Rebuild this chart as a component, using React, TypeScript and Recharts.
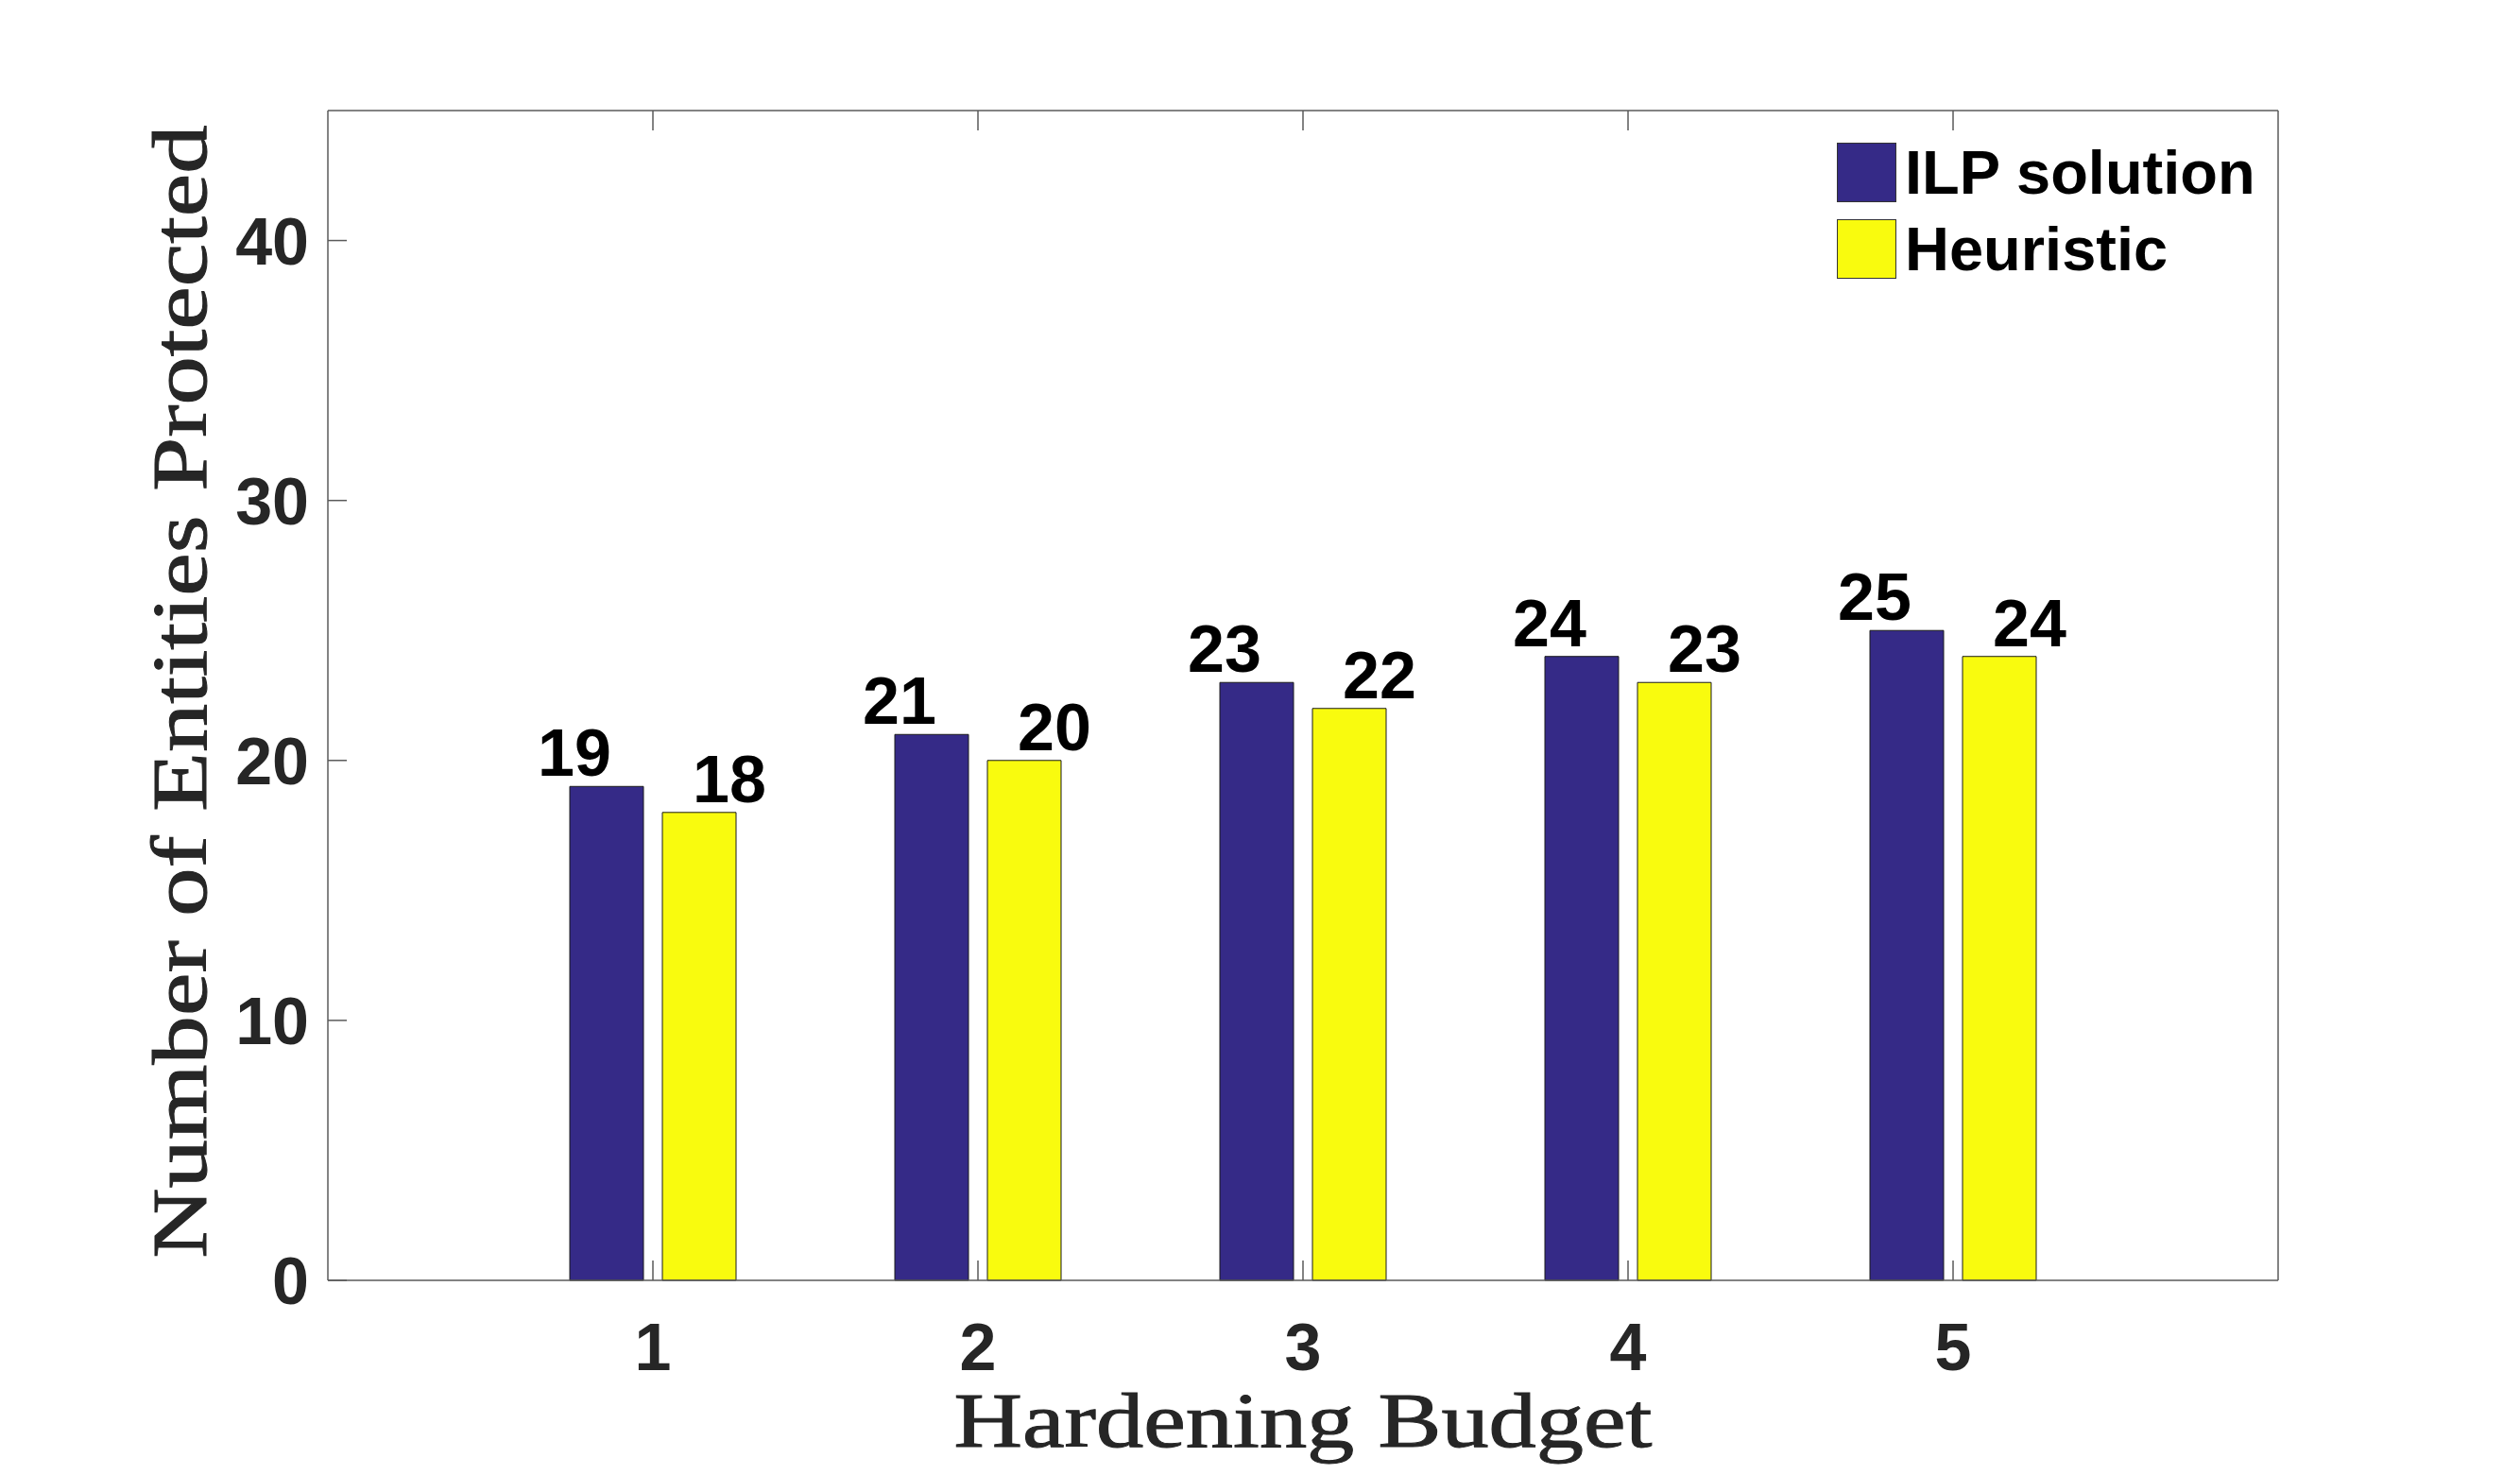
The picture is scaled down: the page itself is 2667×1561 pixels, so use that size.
import React from 'react'
import { BarChart, Bar, XAxis, YAxis, Legend, LabelList } from 'recharts'

const budgets = ['1', '2', '3', '4', '5']
const ilpValues = [19, 21, 23, 24, 25]
const heuristicValues = [18, 20, 22, 23, 24]
const yTicks = [0, 10, 20, 30, 40]
const seriesOrder = ['ILP solution', 'Heuristic']

const data = budgets.map((b, i) => ({ budget: b, ilp: ilpValues[i], heuristic: heuristicValues[i] }))

const AXIS = '#5a5a5a'
const TEXT = '#262626'
const SANS = '"Liberation Sans", Arial, Helvetica, sans-serif'
const SERIF = '"Liberation Serif", "Times New Roman", serif'

const BottomTick = ({ x, y, payload }: any) => (
  <g>
    <line x1={x} y1={y} x2={x} y2={y - 21} stroke={AXIS} strokeWidth={1.5} />
    <text x={x} y={y + 95} textAnchor="middle" fill={TEXT} fontFamily={SANS} fontWeight="bold" fontSize={70}>
      {payload.value}
    </text>
  </g>
)

const TopTick = ({ x, y }: any) => <line x1={x} y1={y} x2={x} y2={y + 21} stroke={AXIS} strokeWidth={1.5} />

const LeftTick = ({ x, y, payload }: any) => (
  <g>
    <line x1={x} y1={y} x2={x + 20} y2={y} stroke={AXIS} strokeWidth={1.5} />
    <text x={x - 20} y={y} dy="0.36em" textAnchor="end" fill={TEXT} fontFamily={SANS} fontWeight="bold" fontSize={70}>
      {payload.value}
    </text>
  </g>
)

const RightTick = ({ x, y }: any) => <line x1={x} y1={y} x2={x - 20} y2={y} stroke={AXIS} strokeWidth={1.5} />

const XLabel = ({ viewBox }: any) => {
  const { x, width } = viewBox
  return (
    <text
      x={x + width / 2}
      y={1531}
      textAnchor="middle"
      fill={TEXT}
      stroke={TEXT}
      strokeWidth={1}
      fontFamily={SERIF}
      fontSize={82}
      textLength={739}
      lengthAdjust="spacingAndGlyphs"
    >
      Hardening Budget
    </text>
  )
}

const YLabel = ({ viewBox }: any) => {
  const { y, height } = viewBox
  const cy = y + height / 2 - 4
  return (
    <text
      x={218}
      y={cy}
      transform={`rotate(-90 218 ${cy})`}
      textAnchor="middle"
      fill={TEXT}
      stroke={TEXT}
      strokeWidth={1}
      fontFamily={SERIF}
      fontSize={82}
      textLength={1199}
      lengthAdjust="spacingAndGlyphs"
    >
      Number of Entities Protected
    </text>
  )
}

const valueLabel = (shift: number) => (props: any) => {
  const { x, y, width, value } = props
  return (
    <text x={x + width / 2 + shift} y={y - 11} textAnchor="middle" fill="#000" fontFamily={SANS} fontWeight="bold" fontSize={70}>
      {value}
    </text>
  )
}

const LegendContent = ({ payload }: any) => {
  const items = [...(payload || [])].sort((a: any, b: any) => seriesOrder.indexOf(a.value) - seriesOrder.indexOf(b.value))
  return (
    <div style={{ fontFamily: SANS, fontWeight: 'bold', fontSize: 65 }}>
      {items.map((entry: any) => (
        <div key={entry.value} style={{ display: 'flex', alignItems: 'center', height: 81 }}>
          <div style={{ width: 61, height: 61, background: entry.color, border: '1px solid #333' }} />
          <span style={{ marginLeft: 9, color: '#000', lineHeight: '63px' }}>{entry.value}</span>
        </div>
      ))}
    </div>
  )
}

export default function App() {
  return (
    <div style={{ position: 'absolute', left: 0, top: 0, background: '#fff' }}>
      <BarChart
        width={2667}
        height={1561}
        data={data}
        margin={{ top: 116, right: 255, bottom: 0, left: 0 }}
        barSize={78}
        barGap={20}
      >
        <XAxis
          dataKey="budget"
          height={206}
          padding={{ left: 172, right: 172 }}
          axisLine={{ stroke: AXIS, strokeWidth: 1.5 }}
          tickLine={false}
          tickSize={0}
          tickMargin={0}
          interval={0}
          tick={<BottomTick />}
          label={<XLabel />}
        />
        <XAxis
          xAxisId="top"
          dataKey="budget"
          orientation="top"
          height={1}
          padding={{ left: 172, right: 172 }}
          axisLine={{ stroke: AXIS, strokeWidth: 1.5 }}
          tickLine={false}
          tickSize={0}
          tickMargin={0}
          interval={0}
          tick={<TopTick />}
        />
        <YAxis
          width={347}
          domain={[0, 45]}
          ticks={yTicks}
          interval={0}
          axisLine={{ stroke: AXIS, strokeWidth: 1.5 }}
          tickLine={false}
          tickSize={0}
          tickMargin={0}
          tick={<LeftTick />}
          label={<YLabel />}
        />
        <YAxis
          yAxisId="right"
          orientation="right"
          width={1}
          type="number"
          domain={[0, 45]}
          ticks={yTicks}
          interval={0}
          axisLine={{ stroke: AXIS, strokeWidth: 1.5 }}
          tickLine={false}
          tickSize={0}
          tickMargin={0}
          tick={<RightTick />}
        />
        <Legend
          layout="vertical"
          verticalAlign="middle"
          align="center"
          content={<LegendContent />}
          wrapperStyle={{ left: 1944, top: 142, width: 460 }}
        />
        <Bar dataKey="ilp" name="ILP solution" fill="#352a87" stroke="#1a1a1a" strokeWidth={1} isAnimationActive={false}>
          <LabelList dataKey="ilp" content={valueLabel(-34)} />
        </Bar>
        <Bar dataKey="heuristic" name="Heuristic" fill="#f9fb0e" stroke="#1a1a1a" strokeWidth={1} isAnimationActive={false}>
          <LabelList dataKey="heuristic" content={valueLabel(32)} />
        </Bar>
      </BarChart>
    </div>
  )
}
